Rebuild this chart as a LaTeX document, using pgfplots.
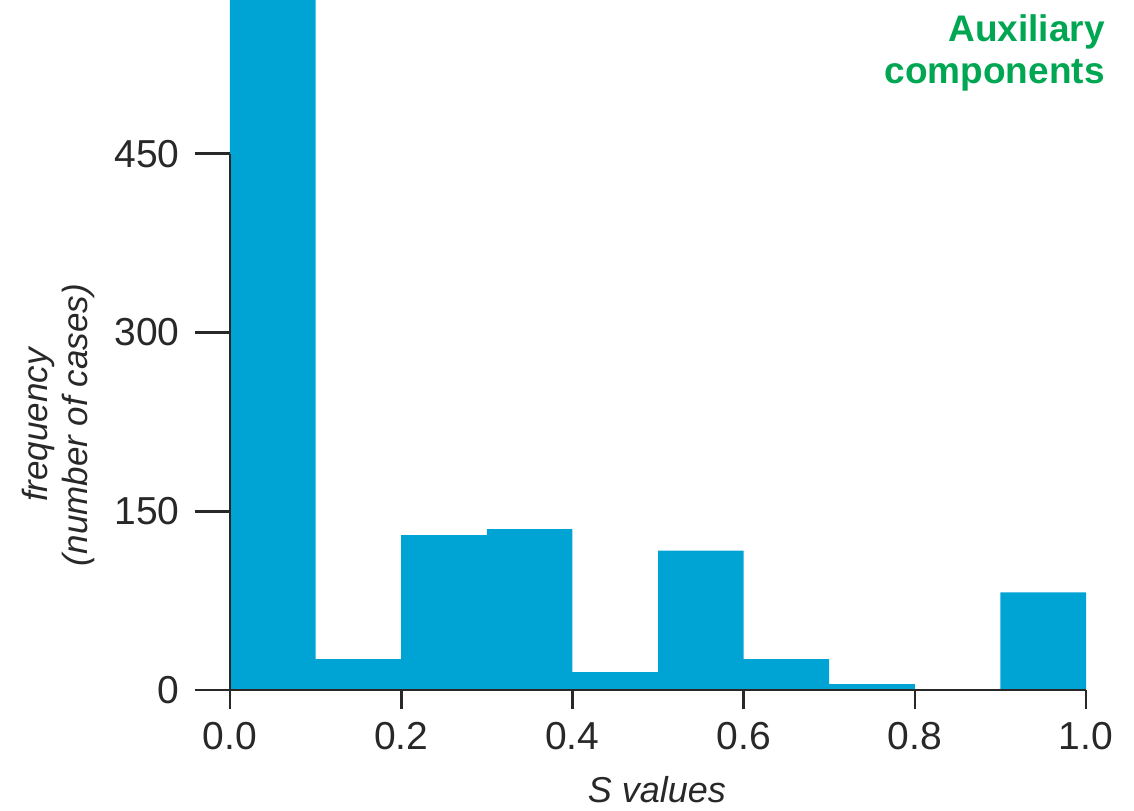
\documentclass[border=0pt]{standalone}
\usepackage{pgfplots}
\pgfplotsset{compat=1.18}
\usepackage{fontspec}
\setmainfont{Liberation Sans}
\definecolor{barblue}{RGB}{0,164,212}
\definecolor{titlegreen}{RGB}{0,166,81}
\definecolor{axisgray}{RGB}{40,40,40}
\begin{document}
\begin{tikzpicture}
\begin{axis}[
  scale only axis, width=428pt, height=345pt,
  xmin=0, xmax=1, ymin=0, ymax=579,
  axis lines*=left,
  axis on top,
  axis line style={line width=1.3pt, axisgray},
  y axis line style={draw=none},
  tick align=outside,
  tick style={line width=1.3pt, axisgray},
  x tick style={/pgfplots/major tick length=9.5pt},
  y tick style={/pgfplots/major tick length=17.5pt},
  xtick={0,0.2,0.4,0.6,0.8,1.0},
  ytick={0,150,300,450},
  minor tick num=0,
  xticklabel style={/pgf/number format/.cd, fixed, fixed zerofill, precision=1, assume math mode=true, /tikz/yshift=-8.5pt},
  yticklabel style={/pgf/number format/assume math mode=true, /tikz/xshift=-17.5pt},
  tick label style={font=\fontsize{19.5}{22}\selectfont, text=axisgray},
  clip=true,
]
\addplot[ybar interval, fill=barblue, draw=none] coordinates {
  (0.0,620) (0.1,26) (0.2,130) (0.3,135) (0.4,15) (0.5,117) (0.6,26) (0.7,5) (0.8,0) (0.9,82) (1.0,82)
};
\coordinate (O) at (axis cs:0,0);
\coordinate (T) at (axis cs:0,450);
\end{axis}
\draw[line width=1.3pt, axisgray] (O) -- (T);
\node[anchor=north east, align=right, font=\bfseries\fontsize{18.5}{21}\selectfont, text=titlegreen, inner sep=0pt]
  at ([shift={(437.5pt,338pt)}]O) {Auxiliary\\components};
\node[rotate=90, align=center, font=\itshape\fontsize{17.5}{20}\selectfont, text=axisgray, inner sep=0pt]
  at ([shift={(-86pt,132.5pt)}]O) {frequency\\(number of cases)};
\node[font=\itshape\fontsize{18}{21}\selectfont, text=axisgray, inner sep=0pt]
  at ([shift={(213.5pt,-50pt)}]O) {S values};
\pgfresetboundingbox
\path[shift={(O)}] (-115pt,-60pt) rectangle (452pt,345pt);
\end{tikzpicture}
\end{document}
